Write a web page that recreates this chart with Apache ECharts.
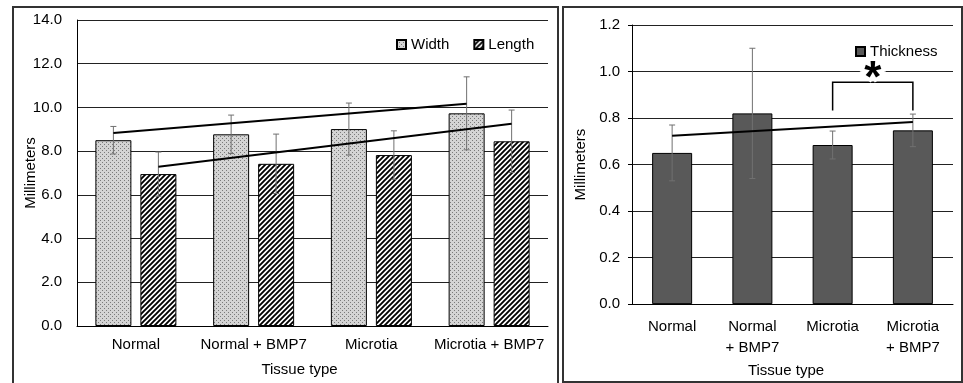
<!DOCTYPE html>
<html>
<head>
<meta charset="utf-8">
<script src="https://cdn.jsdelivr.net/npm/echarts@6/dist/echarts.min.js"></script>
<style>
  * { margin: 0; padding: 0; }
  body { background: #fff; }
  #main { width: 963px; height: 383px; }
  .panel { position: absolute; border: 2px solid #333; box-sizing: border-box; pointer-events: none; }
</style>
</head>
<body>
<div id="main"></div>
<div class="panel" style="left:12px;top:6px;width:547px;height:400px"></div>
<div class="panel" style="left:562px;top:6px;width:401px;height:377px"></div>
<script>
var tissue = ['Normal', 'Normal + BMP7', 'Microtia', 'Microtia + BMP7'];
var tissueWrapped = ['Normal', 'Normal\n+ BMP7', 'Microtia', 'Microtia\n+ BMP7'];

// left panel
var widthMean = [8.50, 8.77, 9.01, 9.73];
var widthSd = [0.63, 0.88, 1.19, 1.67];
var lengthMean = [6.95, 7.42, 7.82, 8.45];
var lengthSd = [1.01, 1.36, 1.11, 1.43];
var widthTrend = [8.83, 10.17];   // at first and last group
var lengthTrend = [7.29, 9.25];
var leftTicks = [0, 14, 2];        // min, max, step

// right panel
var thickMean = [0.65, 0.82, 0.684, 0.747];
var thickSd = [0.12, 0.28, 0.06, 0.07];
var thickTrend = [0.724, 0.783];
var rightTicks = [0, 1.2, 0.2];
var sigPair = [2, 3];              // Microtia vs Microtia + BMP7
var sigBracket = [0.954, 0.832];   // bracket top, foot of legs

var font = 'Liberation Sans, Arial, sans-serif';

function dotPattern() {
	var c = document.createElement('canvas');
	c.width = 4; c.height = 4;
	var g = c.getContext('2d');
	g.fillStyle = '#d4d4d4';
	g.fillRect(0, 0, 4, 4);
	g.fillStyle = '#7a7a7a';
	g.fillRect(0, 0, 1, 1);
	g.fillRect(2, 2, 1, 1);
	return c;
}

function hatchPattern() {
	var s = 5;
	var c = document.createElement('canvas');
	c.width = s; c.height = s;
	var g = c.getContext('2d');
	g.fillStyle = '#fff';
	g.fillRect(0, 0, s, s);
	g.strokeStyle = '#000';
	g.lineWidth = 1.9;
	g.beginPath();
	g.moveTo(-1, 1); g.lineTo(1, -1);
	g.moveTo(0, s); g.lineTo(s, 0);
	g.moveTo(s - 1, s + 1); g.lineTo(s + 1, s - 1);
	g.stroke();
	return c;
}

// error bar drawn dx pixels off the category centre
function errorBars(dx, cap) {
	return function (params, api) {
		var i = api.value(0), m = api.value(1), sd = api.value(2);
		var hi = api.coord([i, m + sd]);
		var lo = api.coord([i, m - sd]);
		var x = hi[0] + dx;
		var st = { stroke: '#707070', lineWidth: 1 };
		return {
			type: 'group',
			children: [
				{ type: 'line', shape: { x1: x, y1: hi[1], x2: x, y2: lo[1] }, style: st },
				{ type: 'line', shape: { x1: x - cap, y1: hi[1], x2: x + cap, y2: hi[1] }, style: st },
				{ type: 'line', shape: { x1: x - cap, y1: lo[1], x2: x + cap, y2: lo[1] }, style: st }
			]
		};
	};
}

// straight trend line from first to last group, dx pixels off centre
function trendLine(dx) {
	return function (params, api) {
		var a = api.coord([api.value(0), api.value(1)]);
		var b = api.coord([api.value(2), api.value(3)]);
		return {
			type: 'line',
			shape: { x1: a[0] + dx, y1: a[1], x2: b[0] + dx, y2: b[1] },
			style: { stroke: '#000', lineWidth: 2 }
		};
	};
}

function sigMark(params, api) {
	var i0 = api.value(0), i1 = api.value(1), top = api.value(2), foot = api.value(3);
	var p0 = api.coord([i0, foot]), p1 = api.coord([i0, top]);
	var p2 = api.coord([i1, top]), p3 = api.coord([i1, foot]);
	var mx = (p1[0] + p2[0]) / 2;
	var ty = p1[1] - 2.5;
	var txt = { text: '*', fontSize: 44, fontWeight: 'bold', fontFamily: font, align: 'center', verticalAlign: 'middle' };
	return {
		type: 'group',
		children: [
			{ type: 'polyline', shape: { points: [p0, p1, p2, p3] }, style: { stroke: '#000', lineWidth: 1.5, fill: null } },
			{ type: 'text', x: mx, y: ty, style: Object.assign({ fill: '#fff', stroke: '#fff', lineWidth: 7 }, txt) },
			{ type: 'text', x: mx, y: ty, style: Object.assign({ fill: '#000' }, txt) }
		]
	};
}

var offL = 36 / 2 + 4.5;   // bar half width + half gap

var labelStyle = { color: '#000', fontSize: 15, fontFamily: font };

var chart = echarts.init(document.getElementById('main'));
chart.setOption({
	animation: false,
	textStyle: { fontFamily: font },
	grid: [
		{ left: 77, right: 415, top: 20, bottom: 57 },
		{ left: 632, right: 10, top: 25, bottom: 74 }
	],
	legend: [
		{
			data: ['Width', 'Length'], left: 396, top: 37, padding: 0,
			itemWidth: 9, itemHeight: 9, itemGap: 24, icon: 'rect',
			textStyle: labelStyle
		},
		{
			data: ['Thickness'], left: 855, top: 44, padding: 0,
			itemWidth: 9, itemHeight: 9, icon: 'rect',
			textStyle: labelStyle
		}
	],
	xAxis: [
		{
			type: 'category', gridIndex: 0, data: tissue,
			axisLine: { lineStyle: { color: '#000', width: 1 } },
			axisTick: { show: false },
			axisLabel: Object.assign({ margin: 11, interval: 0 }, labelStyle),
			name: 'Tissue type', nameLocation: 'middle', nameGap: 36,
			nameTextStyle: Object.assign({ padding: [0, 26, 0, 0] }, labelStyle)
		},
		{
			type: 'category', gridIndex: 1, data: tissueWrapped,
			axisLine: { lineStyle: { color: '#000', width: 1 } },
			axisTick: { show: false },
			axisLabel: Object.assign({ margin: 12, interval: 0, lineHeight: 21 }, labelStyle),
			name: 'Tissue type', nameLocation: 'middle', nameGap: 53,
			nameTextStyle: Object.assign({ padding: [0, 13, 0, 0] }, labelStyle)
		}
	],
	yAxis: [
		{
			type: 'value', gridIndex: 0,
			min: leftTicks[0], max: leftTicks[1], interval: leftTicks[2],
			axisLine: { show: true, lineStyle: { color: '#000', width: 1 } },
			axisTick: { show: false },
			splitLine: { lineStyle: { color: '#222', width: 1 } },
			axisLabel: Object.assign({ margin: 15, formatter: function (v) { return v.toFixed(1); } }, labelStyle),
			name: 'Millimeters', nameLocation: 'middle', nameRotate: 90, nameGap: 39,
			nameMoveOverlap: false,
			nameTextStyle: labelStyle
		},
		{
			type: 'value', gridIndex: 1,
			min: rightTicks[0], max: rightTicks[1], interval: rightTicks[2],
			axisLine: { show: true, lineStyle: { color: '#000', width: 1 } },
			axisTick: { show: true, length: 4, lineStyle: { color: '#000' } },
			splitLine: { lineStyle: { color: '#222', width: 1 } },
			axisLabel: Object.assign({ margin: 12, formatter: function (v) { return v.toFixed(1); } }, labelStyle),
			name: 'Millimeters', nameLocation: 'middle', nameRotate: 90, nameGap: 44,
			nameMoveOverlap: false,
			nameTextStyle: labelStyle
		}
	],
	series: [
		{
			name: 'Width', type: 'bar', xAxisIndex: 0, yAxisIndex: 0,
			barWidth: 36, barGap: '25%', data: widthMean,
			itemStyle: { color: { image: dotPattern(), repeat: 'repeat' }, borderColor: '#000', borderWidth: 1 }
		},
		{
			name: 'Length', type: 'bar', xAxisIndex: 0, yAxisIndex: 0,
			barWidth: 36, barGap: '25%', data: lengthMean,
			itemStyle: { color: { image: hatchPattern(), repeat: 'repeat' }, borderColor: '#000', borderWidth: 1 }
		},
		{
			type: 'custom', xAxisIndex: 0, yAxisIndex: 0, z: 3,
			renderItem: errorBars(-offL, 3),
			data: widthMean.map(function (v, i) { return [i, v, widthSd[i]]; })
		},
		{
			type: 'custom', xAxisIndex: 0, yAxisIndex: 0, z: 3,
			renderItem: errorBars(offL, 3),
			data: lengthMean.map(function (v, i) { return [i, v, lengthSd[i]]; })
		},
		{
			type: 'custom', xAxisIndex: 0, yAxisIndex: 0, z: 4,
			renderItem: trendLine(-offL),
			data: [[0, widthTrend[0], tissue.length - 1, widthTrend[1]]]
		},
		{
			type: 'custom', xAxisIndex: 0, yAxisIndex: 0, z: 4,
			renderItem: trendLine(offL),
			data: [[0, lengthTrend[0], tissue.length - 1, lengthTrend[1]]]
		},
		{
			name: 'Thickness', type: 'bar', xAxisIndex: 1, yAxisIndex: 1,
			barWidth: 40, data: thickMean,
			itemStyle: { color: '#595959', borderColor: '#000', borderWidth: 1 }
		},
		{
			type: 'custom', xAxisIndex: 1, yAxisIndex: 1, z: 3,
			renderItem: errorBars(0, 3),
			data: thickMean.map(function (v, i) { return [i, v, thickSd[i]]; })
		},
		{
			type: 'custom', xAxisIndex: 1, yAxisIndex: 1, z: 4,
			renderItem: trendLine(0),
			data: [[0, thickTrend[0], tissue.length - 1, thickTrend[1]]]
		},
		{
			type: 'custom', xAxisIndex: 1, yAxisIndex: 1, z: 4,
			renderItem: sigMark,
			data: [[sigPair[0], sigPair[1], sigBracket[0], sigBracket[1]]]
		}
	]
});
</script>
</body>
</html>
